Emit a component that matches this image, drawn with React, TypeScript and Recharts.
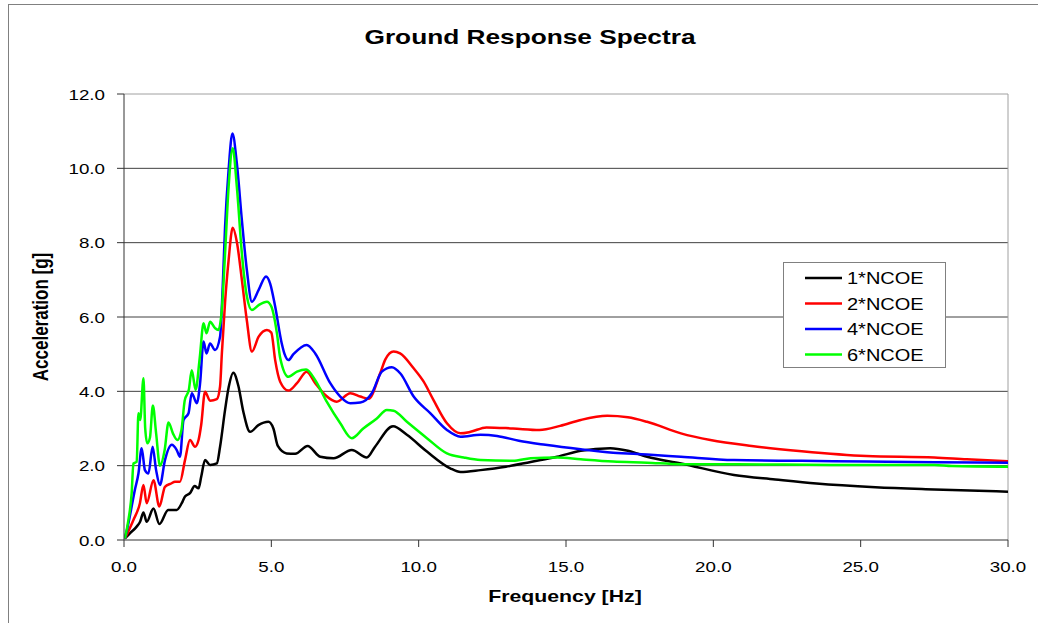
import { LineChart, Line, XAxis, YAxis, CartesianGrid, ReferenceLine, Legend } from "recharts";

const FONT = "'Liberation Sans', Arial, Helvetica, sans-serif";
// the source image is stretched sideways, so horizontal text gets a scaleX
const SX = 1.25;

// frequency [Hz] / acceleration [g] per series
const f1 = [0.03, 0.2, 0.43, 0.55, 0.66, 0.77, 1.0, 1.2, 1.5, 1.79, 1.96, 2.07, 2.24, 2.4, 2.53, 2.62, 2.75, 2.92, 3.15, 3.26, 3.43, 3.55, 3.71, 3.88, 4.05, 4.28, 4.56, 4.9, 5.07, 5.22, 5.52, 5.81, 6.23, 6.66, 7.11, 7.73, 8.24, 8.52, 9.13, 9.6, 10.28, 11.07, 11.42, 12.1, 12.96, 13.8, 14.7, 15.5, 16.5, 17.1, 17.75, 18.9, 20.7, 22.1, 23.5, 25.5, 27.5, 30];
const a1 = [0.04, 0.18, 0.36, 0.5, 0.74, 0.49, 0.85, 0.43, 0.81, 0.81, 0.99, 1.17, 1.26, 1.45, 1.39, 1.7, 2.15, 2.02, 2.06, 2.51, 3.5, 4.1, 4.5, 4.15, 3.45, 2.91, 3.09, 3.18, 3.0, 2.53, 2.33, 2.32, 2.53, 2.24, 2.2, 2.42, 2.22, 2.51, 3.06, 2.83, 2.38, 1.93, 1.83, 1.88, 1.97, 2.1, 2.24, 2.4, 2.47, 2.4, 2.24, 2.06, 1.75, 1.63, 1.52, 1.42, 1.36, 1.3];

const f2 = [0.03, 0.32, 0.54, 0.66, 0.77, 1.0, 1.2, 1.39, 1.6, 1.73, 1.9, 2.07, 2.24, 2.41, 2.53, 2.62, 2.75, 2.92, 3.15, 3.26, 3.32, 3.43, 3.55, 3.69, 3.83, 4.0, 4.17, 4.34, 4.57, 4.85, 5.0, 5.13, 5.3, 5.58, 5.87, 6.2, 6.49, 6.83, 7.22, 7.68, 8.02, 8.3, 8.7, 8.87, 9.15, 9.37, 9.83, 10.17, 10.5, 10.96, 11.42, 11.76, 12.3, 13.2, 14.1, 14.8, 15.5, 16.4, 17.1, 17.75, 18.9, 19.9, 21.3, 23.0, 25.2, 27.5, 28.6, 30];
const a2 = [0.04, 0.54, 0.99, 1.48, 0.99, 1.61, 0.9, 1.43, 1.52, 1.57, 1.57, 2.15, 2.69, 2.51, 2.69, 3.1, 3.99, 3.75, 3.79, 4.13, 5.0, 6.4, 7.53, 8.4, 8.02, 7.0, 5.9, 5.07, 5.47, 5.65, 5.58, 4.84, 4.26, 4.02, 4.22, 4.53, 4.22, 3.9, 3.72, 3.95, 3.86, 3.8, 4.5, 4.86, 5.07, 5.02, 4.62, 4.26, 3.77, 3.14, 2.87, 2.91, 3.03, 3.0, 2.96, 3.07, 3.23, 3.34, 3.3, 3.18, 2.87, 2.69, 2.53, 2.39, 2.26, 2.22, 2.17, 2.12];

const f4 = [0.03, 0.15, 0.26, 0.37, 0.49, 0.6, 0.71, 0.83, 0.97, 1.09, 1.22, 1.39, 1.62, 1.79, 1.9, 2.02, 2.19, 2.3, 2.47, 2.58, 2.7, 2.8, 2.92, 3.09, 3.26, 3.35, 3.43, 3.55, 3.68, 3.83, 4.0, 4.17, 4.34, 4.57, 4.82, 4.96, 5.13, 5.35, 5.45, 5.58, 5.75, 6.2, 6.49, 7.0, 7.34, 7.68, 8.02, 8.41, 8.75, 9.09, 9.38, 9.83, 10.4, 10.96, 11.42, 12.1, 12.66, 13.4, 14.3, 15.5, 16.6, 17.75, 18.9, 20.7, 23.0, 25.2, 27.5, 30];
const a4 = [0.04, 0.45, 0.9, 1.35, 1.79, 2.47, 1.88, 1.79, 2.51, 1.88, 1.48, 2.15, 2.56, 2.42, 2.24, 3.23, 3.41, 3.95, 3.68, 4.2, 5.34, 5.02, 5.29, 5.11, 5.47, 6.82, 8.43, 9.96, 10.94, 10.13, 8.61, 7.26, 6.41, 6.73, 7.09, 6.9, 6.28, 5.3, 5.0, 4.84, 5.0, 5.25, 5.02, 4.22, 3.86, 3.68, 3.7, 3.95, 4.53, 4.65, 4.48, 3.86, 3.41, 2.96, 2.78, 2.83, 2.8, 2.67, 2.56, 2.44, 2.35, 2.3, 2.24, 2.15, 2.13, 2.11, 2.09, 2.08];

const f6 = [0.03, 0.15, 0.26, 0.32, 0.43, 0.49, 0.55, 0.66, 0.72, 0.79, 0.88, 0.98, 1.09, 1.22, 1.38, 1.51, 1.66, 1.81, 1.95, 2.06, 2.2, 2.3, 2.43, 2.57, 2.7, 2.8, 2.92, 3.09, 3.2, 3.32, 3.43, 3.55, 3.69, 3.83, 4.0, 4.17, 4.34, 4.57, 4.85, 5.0, 5.19, 5.3, 5.58, 5.87, 6.18, 6.49, 6.88, 7.34, 7.73, 8.12, 8.58, 8.92, 9.15, 9.6, 10.28, 10.96, 11.53, 12.1, 13.2, 13.8, 14.7, 15.5, 16.6, 17.75, 18.9, 20.7, 24.1, 27.5, 28.1, 30];
const a6 = [0.04, 0.54, 1.26, 2.06, 2.1, 3.41, 3.23, 4.35, 3.0, 2.6, 2.75, 3.62, 2.87, 2.0, 2.42, 3.16, 2.87, 2.69, 2.96, 3.75, 4.04, 4.57, 4.04, 4.9, 5.83, 5.56, 5.87, 5.7, 5.65, 6.2, 7.71, 9.5, 10.54, 9.5, 7.71, 6.55, 6.19, 6.32, 6.41, 6.28, 5.56, 4.9, 4.39, 4.53, 4.59, 4.3, 3.72, 3.14, 2.74, 3.0, 3.27, 3.5, 3.48, 3.18, 2.74, 2.33, 2.22, 2.15, 2.13, 2.2, 2.22, 2.17, 2.11, 2.08, 2.04, 2.04, 2.02, 2.02, 1.99, 1.97];

const seriesNames = ["1*NCOE", "2*NCOE", "4*NCOE", "6*NCOE"];
const seriesColors = ["#000000", "#ff0000", "#0000ff", "#00ff00"];

const xTicks = [0, 5, 10, 15, 20, 25, 30];
const yTicks = [0, 2, 4, 6, 8, 10, 12];
const gridValues = [2, 4, 6, 8, 10];

const toPoints = (f: number[], a: number[]) => f.map((v, i) => ({ f: v, a: a[i] }));
const series = [toPoints(f1, a1), toPoints(f2, a2), toPoints(f4, a4), toPoints(f6, a6)];

const XTick = (props: any) => {
    const { x, payload } = props;
    return (
        <text transform={`translate(${x},572) scale(${SX},1)`} textAnchor="middle" fontSize={15} fontFamily={FONT} fill="#000">
            {Number(payload.value).toFixed(1)}
        </text>
    );
};

const YTick = (props: any) => {
    const { y, payload } = props;
    return (
        <text transform={`translate(105,${y + 5.5}) scale(${SX},1)`} textAnchor="end" fontSize={15} fontFamily={FONT} fill="#000">
            {Number(payload.value).toFixed(1)}
        </text>
    );
};

const LegendBox = () => (
    <svg width={164} height={107} style={{ display: "block" }}>
        <rect x={0.5} y={0.5} width={162} height={105} fill="#fff" stroke="#808080" />
        {seriesNames.map((name, i) => {
            const y = 16 + i * 25.5;
            return (
                <g key={name}>
                    <line x1={22} x2={59} y1={y} y2={y} stroke={seriesColors[i]} strokeWidth={2.5} />
                    <text transform={`translate(64,${y + 6}) scale(${SX},1)`} fontSize={16} fontFamily={FONT} fill="#000">
                        {name}
                    </text>
                </g>
            );
        })}
    </svg>
);

export default function App() {
    return (
        <div style={{ position: "absolute", left: 0, top: 0, width: 1038, height: 623, background: "#fff" }}>
            <LineChart width={1038} height={623} margin={{ top: 94, right: 30, bottom: 43, left: 64 }}>
                <CartesianGrid horizontal vertical={false} horizontalValues={gridValues} stroke="#404040" strokeWidth={1} />
                <XAxis
                    type="number"
                    dataKey="f"
                    domain={[0, 30]}
                    ticks={xTicks}
                    height={40}
                    tickSize={7}
                    stroke="#333"
                    tick={XTick}
                    allowDataOverflow
                />
                <YAxis
                    type="number"
                    dataKey="a"
                    domain={[0, 12]}
                    ticks={yTicks}
                    width={60}
                    tickSize={7}
                    stroke="#333"
                    tick={YTick}
                    allowDataOverflow
                />
                <ReferenceLine y={12} stroke="#a0a0a0" />
                <ReferenceLine x={30} stroke="#a0a0a0" />
                <Legend layout="vertical" align="center" verticalAlign="middle" content={LegendBox} wrapperStyle={{ left: 783, top: 262, width: 164, height: 107 }} />
                {series.map((pts, i) => (
                    <Line
                        key={seriesNames[i]}
                        data={pts}
                        dataKey="a"
                        name={seriesNames[i]}
                        type="monotone"
                        stroke={seriesColors[i]}
                        strokeWidth={2.5}
                        dot={false}
                        isAnimationActive={false}
                    />
                ))}
            </LineChart>
            <svg width={1038} height={623} style={{ position: "absolute", left: 0, top: 0, pointerEvents: "none" }}>
                <line x1={8.5} y1={4} x2={8.5} y2={623} stroke="#808080" />
                <line x1={8} y1={4.5} x2={1038} y2={4.5} stroke="#808080" />
                <text transform={`translate(530,44) scale(${SX},1)`} textAnchor="middle" fontSize={21} fontWeight="bold" fontFamily={FONT} fill="#000">
                    Ground Response Spectra
                </text>
                <text transform={`translate(565,602) scale(${SX},1)`} textAnchor="middle" fontSize={17} fontWeight="bold" fontFamily={FONT} fill="#000">
                    Frequency [Hz]
                </text>
                <text transform={`translate(47.5,317) scale(${SX},1) rotate(-90)`} textAnchor="middle" fontSize={17} fontWeight="bold" fontFamily={FONT} fill="#000">
                    Acceleration [g]
                </text>
            </svg>
        </div>
    );
}
